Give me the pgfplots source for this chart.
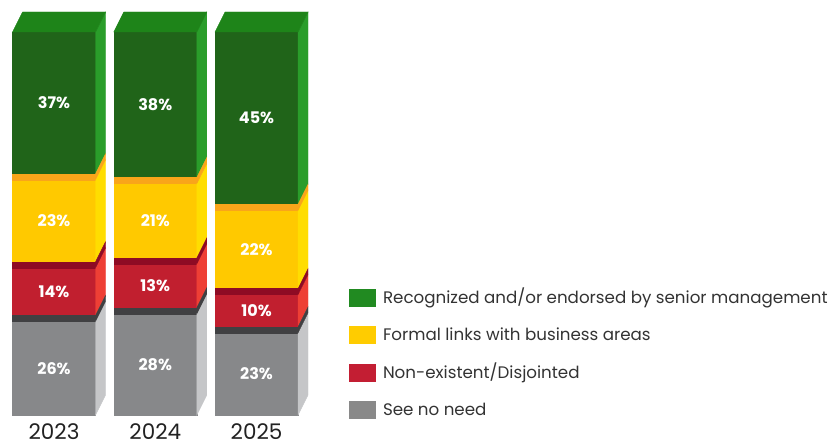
\documentclass[border=0pt]{standalone}
\usepackage{pgfplots}
\usepackage{pgfplotstable}
\pgfplotsset{compat=1.18}
\usepackage{fontspec}
\setmainfont{Poppins}

\definecolor{gF}{HTML}{206419}
\definecolor{gT}{HTML}{1E8419}
\definecolor{gS}{HTML}{2A9D2A}
\definecolor{yF}{HTML}{FFC900}
\definecolor{yB}{HTML}{F9A51A}
\definecolor{yS}{HTML}{FFDD00}
\definecolor{rF}{HTML}{C11F2F}
\definecolor{rB}{HTML}{8E0B24}
\definecolor{rS}{HTML}{EE3F35}
\definecolor{kF}{HTML}{87888A}
\definecolor{kB}{HTML}{404042}
\definecolor{kS}{HTML}{C5C6C8}
\definecolor{lgreen}{HTML}{218A21}
\definecolor{lyellow}{HTML}{FFCC00}
\definecolor{lred}{HTML}{C31E33}
\definecolor{lgrey}{HTML}{898989}
\definecolor{legtxt}{HTML}{333333}
\definecolor{yeartxt}{HTML}{222222}

\pgfplotstableread{
x grey red yellow green
0 26 14 23 37
1 28 13 21 38
2 23 10 22 45
}\datatable

\def\bw{41.5pt}
\def\dxx{10pt}
\def\dyy{20pt}
\def\bd{6pt}
\def\uy{3.83pt}
\newcommand\pctfont{\fontsize{16}{16}\selectfont\bfseries}
\pgfdeclareplotmark{nothing}{}

\pgfplotsset{
  segband/.style n args={4}{%
    scatter, only marks, mark=nothing, forget plot,
    visualization depends on={\thisrow{#1}\as\h},
    scatter/@pre marker code/.code={%
      \pgfmathsetlengthmacro\H{\h*\uy}%
      \pgfmathtruncatemacro\hi{round(\h)}%
      \fill[#2] (-\bw,-\H) rectangle (\bw,-\bd);
      \fill[#3] (-\bw,-\bd) rectangle (\bw,0pt);
      \fill[#4] (\bw,-\H) -- (\bw+\dxx,-\H+\dyy) -- (\bw+\dxx,\dyy-\bd) -- (\bw,-\bd) -- cycle;
      \fill[#3] (\bw,-\bd) -- (\bw+\dxx,\dyy-\bd) -- (\bw+\dxx,\dyy) -- (\bw,0pt) -- cycle;
      \pgfmathsetlengthmacro\cy{-(\H+\bd)/2}%
      \node[text=white, font=\pctfont, inner sep=0pt] at (0pt,\cy) {\hi\%};
    },
    scatter/@post marker code/.code={},
  },
  segtop/.style n args={4}{%
    scatter, only marks, mark=nothing, forget plot,
    visualization depends on={\thisrow{#1}\as\h},
    scatter/@pre marker code/.code={%
      \pgfmathsetlengthmacro\H{\h*\uy}%
      \pgfmathtruncatemacro\hi{round(\h)}%
      \fill[#2] (-\bw,-\H) rectangle (\bw,0pt);
      \fill[#3] (\bw,-\H) -- (\bw+\dxx,-\H+\dyy) -- (\bw+\dxx,\dyy) -- (\bw,0pt) -- cycle;
      \fill[#4] (-\bw,0pt) -- (\bw,0pt) -- (\bw+\dxx,\dyy) -- (-\bw+\dxx,\dyy) -- cycle;
      \pgfmathsetlengthmacro\cy{-\H/2}%
      \node[text=white, font=\pctfont, inner sep=0pt] at (0pt,\cy) {\hi\%};
    },
    scatter/@post marker code/.code={},
  },
}

\begin{document}
\begin{tikzpicture}
\begin{axis}[
  at={(3.4pt,27pt)}, anchor=south west,
  scale only axis, width=313.9pt, height=383pt,
  xmin=-0.5, xmax=2.6, ymin=0, ymax=100,
  clip=false,
  stack plots=y,
  axis line style={draw=none},
  major tick length=0pt,
  ytick=\empty,
  xtick={0,1,2}, xticklabels={2023,2024,2025},
  xticklabel style={font=\fontsize{21.5}{21.5}\selectfont, text=yeartxt, anchor=base, inner sep=0pt, yshift=-24.6pt},
  legend image code/.code={\fill[#1] (0pt,-8.5pt) rectangle (26pt,8.5pt);},
  legend style={at={(axis description cs:1.1007,0.3290)}, anchor=north west,
    draw=none, fill=none, inner sep=0pt, outer sep=0pt,
    row sep=20pt, column sep=7.7pt,
    font=\fontsize{16.7}{16.7}\selectfont, text=legtxt,
    cells={anchor=west},
    nodes={inner sep=0pt, outer sep=0pt, text height=14.2pt, text depth=2.8pt}},
]
\addplot[segband={grey}{kF}{kB}{kS}] table[x=x, y=grey] {\datatable};
\addplot[segband={red}{rF}{rB}{rS}] table[x=x, y=red] {\datatable};
\addplot[segband={yellow}{yF}{yB}{yS}] table[x=x, y=yellow] {\datatable};
\addplot[segtop={green}{gF}{gS}{gT}] table[x=x, y=green] {\datatable};

\addlegendimage{lgreen}
\addlegendentry{Recognized and/or endorsed by senior management}
\addlegendimage{lyellow}
\addlegendentry{Formal links with business areas}
\addlegendimage{lred}
\addlegendentry{Non-existent/Disjointed}
\addlegendimage{lgrey}
\addlegendentry{See no need}
\end{axis}
\pgfresetboundingbox
\path[use as bounding box] (0,0) rectangle (839pt,442pt);
\end{tikzpicture}
\end{document}
